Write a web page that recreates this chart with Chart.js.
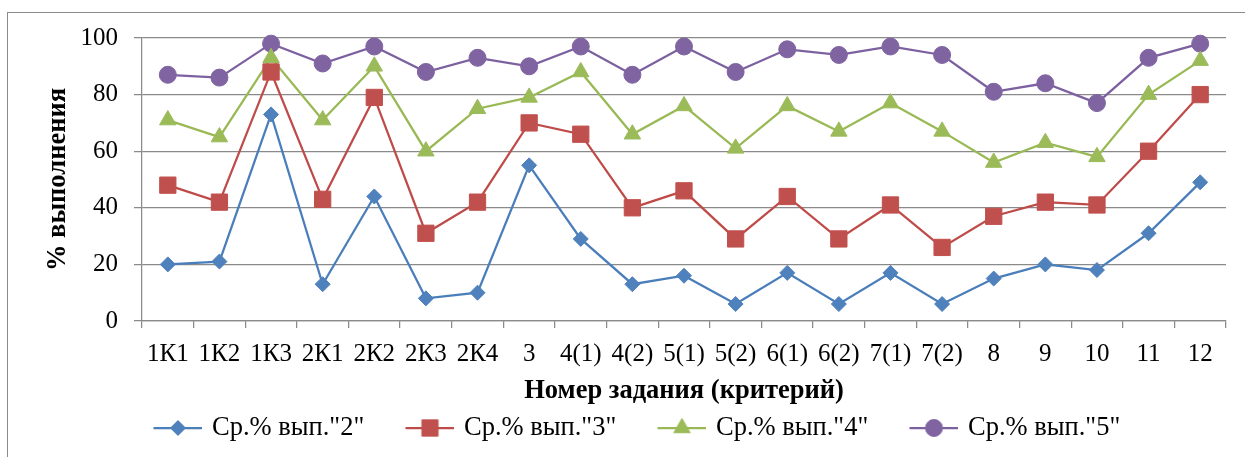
<!DOCTYPE html>
<html><head><meta charset="utf-8">
<script src="https://cdn.jsdelivr.net/npm/chart.js@4/dist/chart.umd.min.js"></script>
<style>html,body{margin:0;padding:0;background:#fff;overflow:hidden}</style>
</head><body>
<canvas id="c" width="1245" height="457"></canvas>
<script>
const categories = ['1К1','1К2','1К3','2К1','2К2','2К3','2К4','3','4(1)','4(2)','5(1)','5(2)','6(1)','6(2)','7(1)','7(2)','8','9','10','11','12'];
const seriesNames = ['Ср.% вып."2"','Ср.% вып."3"','Ср.% вып."4"','Ср.% вып."5"'];
const grade2 = [20,21,73,13,44,8,10,55,29,13,16,6,17,6,17,6,15,20,18,31,49];
const grade3 = [48,42,88,43,79,31,42,70,66,40,46,29,44,29,41,26,37,42,41,60,80];
const grade4 = [71,65,93,71,90,60,75,79,88,66,76,61,76,67,77,67,56,63,58,80,92];
const grade5 = [87,86,98,91,97,88,93,90,97,87,97,88,96,94,97,94,81,84,77,93,98];
const yTicks = [0,20,40,60,80,100];
const xTitle = 'Номер задания (критерий)';
const yTitle = '% выполнения';

const FAMILY = "'Liberation Serif', 'Times New Roman', serif";
const FS = 25;      // tick labels
const FT = 26.5;    // titles and legend
const gridColor = '#8a8a8a';
const lineColors = ['#4a7ebb','#be4b48','#98b954','#7d60a0'];
const fillColors = ['#4f81bd','#c0504d','#9bbb59','#8064a2'];
const pStyles = ['rectRot','rect','triangle','circle'];
const pRadius = [7.5, 11.5, 9.5, 8.5];
const padLeft = 16.5;

function markerPath(ctx, style, r, x, y) {
  ctx.beginPath();
  if (style === 'rectRot') {
    ctx.moveTo(x - r, y); ctx.lineTo(x, y - r); ctx.lineTo(x + r, y); ctx.lineTo(x, y + r);
  } else if (style === 'rect') {
    const s = Math.SQRT1_2 * r; ctx.rect(x - s, y - s, 2 * s, 2 * s);
  } else if (style === 'triangle') {
    for (let k = 0; k < 3; k++) {
      const a = k * 2 * Math.PI / 3;
      const px = x + Math.sin(a) * r, py = y - Math.cos(a) * r;
      if (k === 0) ctx.moveTo(px, py); else ctx.lineTo(px, py);
    }
  } else {
    ctx.arc(x, y, r, 0, Math.PI * 2);
  }
  ctx.closePath();
}

function build() {
  const measure = document.createElement('canvas').getContext('2d');
  measure.font = FT + 'px ' + FAMILY;
  const textW = Math.max(...seriesNames.map(t => measure.measureText(t).width));
  const PITCH = 252;
  const B = Math.max(60, PITCH - 10 - FT / 2 - textW);
  const legendImgs = seriesNames.map((n, i) => {
    const W = Math.round(B + 8), H = 28;
    const cv = document.createElement('canvas');
    cv.width = W; cv.height = H;
    const g = cv.getContext('2d');
    g.strokeStyle = lineColors[i]; g.lineWidth = 2.25;
    g.beginPath(); g.moveTo(W - 49, H / 2); g.lineTo(W, H / 2); g.stroke();
    markerPath(g, pStyles[i], pRadius[i], W - 24.5, H / 2);
    g.fillStyle = fillColors[i]; g.fill();
    g.lineWidth = 1; g.strokeStyle = fillColors[i]; g.stroke();
    return cv;
  });

  const frame = {
    id: 'frame',
    beforeDraw(chart) {
      const c = chart.ctx;
      c.save();
      c.fillStyle = '#fff'; c.fillRect(0, 0, chart.width, chart.height);
      c.strokeStyle = '#8a8a8a'; c.lineWidth = 1;
      c.strokeRect(7.5, 12.5, chart.width + 20, chart.height + 20);
      c.restore();
    }
  };

  const series = [grade2, grade3, grade4, grade5];
  new Chart(document.getElementById('c'), {
    type: 'line',
    data: {
      labels: categories,
      datasets: series.map((d, i) => ({
        label: seriesNames[i],
        data: d,
        borderColor: lineColors[i],
        backgroundColor: fillColors[i],
        borderWidth: 2.25,
        pointStyle: pStyles[i],
        pointRadius: pRadius[i],
        pointHoverRadius: pRadius[i],
        pointBackgroundColor: fillColors[i],
        pointBorderColor: fillColors[i],
        pointBorderWidth: 1,
        tension: 0,
        fill: false,
        clip: false
      }))
    },
    options: {
      responsive: false,
      animation: false,
      events: [],
      layout: { padding: { left: padLeft, right: 19, top: 38, bottom: 5.75 } },
      plugins: {
        tooltip: { enabled: false },
        legend: {
          position: 'bottom',
          labels: {
            usePointStyle: true,
            pointStyleWidth: B,
            padding: 10,
            color: '#000',
            font: { family: FAMILY, size: FT },
            generateLabels(chart) {
              return chart.data.datasets.map((ds, i) => ({
                text: ds.label, pointStyle: legendImgs[i], fillStyle: ds.backgroundColor,
                strokeStyle: ds.borderColor, lineWidth: 0, hidden: false, datasetIndex: i, fontColor: '#000'
              }));
            }
          }
        }
      },
      scales: {
        x: {
          type: 'category',
          offset: true,
          grid: { offset: true, drawOnChartArea: false, drawTicks: true, tickLength: 7, color: gridColor, lineWidth: 1.25 },
          border: { display: true, color: gridColor, width: 1.25 },
          ticks: { color: '#000', font: { family: FAMILY, size: FS }, padding: 11, maxRotation: 0, autoSkip: false },
          title: { display: true, text: xTitle, color: '#000', font: { family: FAMILY, size: FT, weight: 'bold' }, padding: { top: 0, bottom: -2.5 } },
          afterFit(s) { s.height = 83.75; }
        },
        y: {
          min: 0, max: 100,
          afterBuildTicks(s) { s.ticks = yTicks.map(v => ({ value: v })); },
          grid: { color: gridColor, lineWidth: 1.25, tickLength: 8 },
          border: { display: true, color: gridColor, width: 1.25 },
          ticks: { color: '#000', font: { family: FAMILY, size: FS }, padding: 16 },
          title: { display: true, text: yTitle, color: '#000', font: { family: FAMILY, size: FT, weight: 'bold' }, padding: { top: 26, bottom: 0 } },
          afterFit(s) { s.width = 142 - padLeft; }
        }
      }
    },
    plugins: [frame]
  });
}

Promise.all([
  document.fonts.load(FT + "px 'Liberation Serif'", 'Ср.% вып. 1К1'),
  document.fonts.load('bold ' + FT + "px 'Liberation Serif'", 'Номер задания')
]).then(build, build);
</script>
</body></html>
